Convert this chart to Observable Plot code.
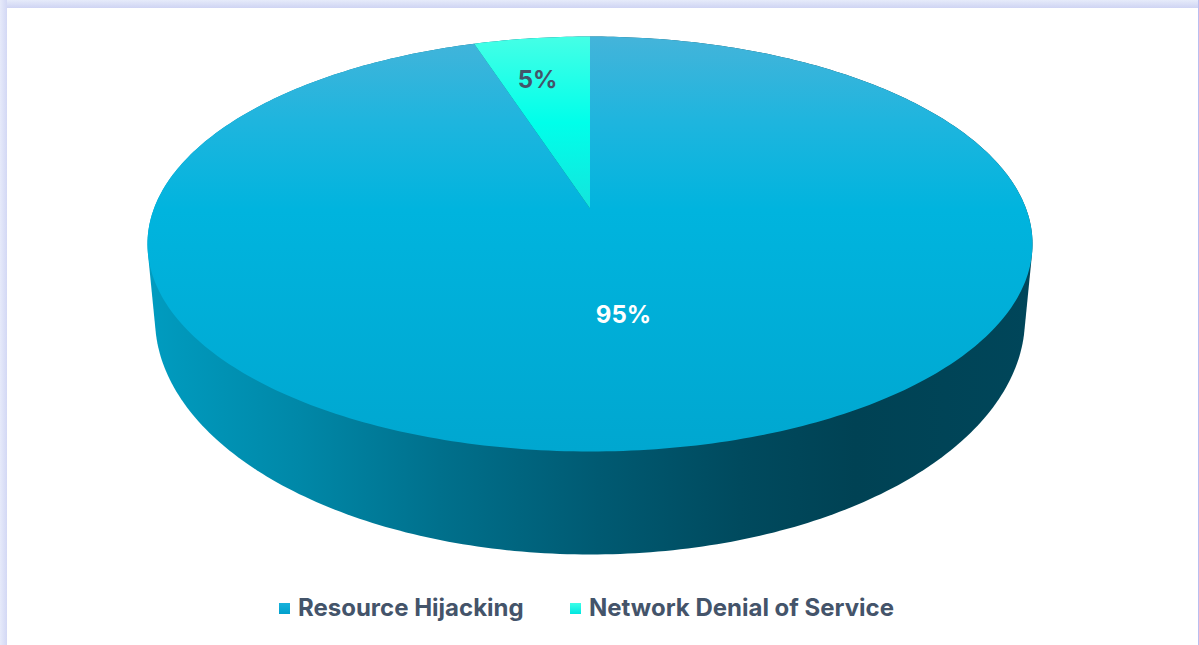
<!DOCTYPE html>
<html><head><meta charset="utf-8">
<script src="https://cdn.jsdelivr.net/npm/d3@7"></script>
<script src="https://cdn.jsdelivr.net/npm/@observablehq/plot@0.6"></script>
<style>
html,body{margin:0;padding:0;width:1199px;height:645px;overflow:hidden;background:#fff;font-family:Inter,sans-serif}
#frame{position:absolute;left:0;top:0;width:1199px;height:8px;background:linear-gradient(#e6ebfa,#cfd4f3)}
#frameL{position:absolute;left:0;top:0;width:7px;height:645px;background:linear-gradient(90deg,#e6eafa,#d3d8f5)}
#frameR{position:absolute;right:0;top:0;width:1px;height:645px;background:#b9bdf0}
#chart{position:absolute;left:0;top:0}
#legend{position:absolute;left:0;top:590px;width:1199px;height:36px;color:#44546a;font:650 24px Inter,sans-serif}
#legend span{position:absolute;top:3px;white-space:nowrap}
#legend i{position:absolute;top:13px;width:11px;height:11px}
</style></head><body>
<div id="frame"></div><div id="frameL"></div><div id="frameR"></div>
<div id="chart"></div>
<div id="legend"></div>
<script>
const categories = ["Resource Hijacking", "Network Denial of Service"];
const shares = [95, 5];
const labels = ["95%", "5%"];
const labelColors = ["#ffffff", "#44546a"];

// perspective disc: unit circle -> page coords
const cx = 589.5, apexY = 208, a = 436, k = 0.171, B = -165.84;
const rim = (t) => { // t = clockwise turn from 12 o'clock, radians
  const u = Math.sin(t), v = Math.cos(t), w = 1 + k * v;
  return [cx + a * u / w, (apexY + B * v) / w];
};
const ang = (p) => p * 2 * Math.PI / 100;
const total = d3.sum(shares);
function arcPts(from, to) {
  const n = Math.max(8, Math.round((to - from) * 4));
  const out = [];
  for (let i = 0; i <= n; i++) out.push(rim(ang(from + (to - from) * i / n)));
  return out;
}
// slices run clockwise from 12 o'clock
const big = [[cx, apexY], ...arcPts(0, shares[0] * 100 / total), [cx, apexY]];
const small = [[cx, apexY], ...arcPts(shares[0] * 100 / total, 100), [cx, apexY]];
const disc = arcPts(0, 100);
const floorRim = d3.range(0, 361, 1).map(d => [cx + 435 * Math.sin(d * Math.PI / 180), 318 - 236 * Math.cos(d * Math.PI / 180)]);
const side = d3.polygonHull([...disc, ...floorRim]);
side.push(side[0]);

const defs = () => {
  const g = d3.create("svg:defs");
  const grad = (id, x2, y2, stops) => {
    const l = g.append("linearGradient").attr("id", id).attr("x1", 0).attr("y1", 0).attr("x2", x2).attr("y2", y2);
    stops.forEach(([o, c]) => l.append("stop").attr("offset", o).attr("stop-color", c));
  };
  grad("gradSide", 1, 0, [[0, "#009cc0"], [0.17, "#0088a8"], [0.33, "#00708c"], [0.51, "#005a72"], [0.67, "#004a5e"], [0.8, "#004254"], [1, "#00465a"]]);
  grad("gradTop", 0, 1, [[0, "#44b4da"], [0.2, "#1fb5de"], [0.42, "#00b4de"], [1, "#00a7d0"]]);
  grad("gradSmall", 0, 1, [[0, "#45ffe6"], [0.5, "#00ffea"], [1, "#14e4dc"]]);
  return g.node();
};

const chart = Plot.plot({
  width: 1199, height: 590, margin: 0,
  x: {domain: [0, 1199], range: [0, 1199], axis: null},
  y: {domain: [0, 590], range: [0, 590], axis: null},
  style: {background: "transparent"},
  marks: [
    defs,
    Plot.line(side, {x: "0", y: "1", fill: "url(#gradSide)", stroke: "none"}),
    Plot.line(big, {x: "0", y: "1", fill: "url(#gradTop)", stroke: "none"}),
    Plot.line(small, {x: "0", y: "1", fill: "url(#gradSmall)", stroke: "none"}),
    Plot.text([0, 1], {
      x: [623, 537], y: [315, 80],
      text: i => labels[i], fill: i => labelColors[i],
      fontSize: 24, fontWeight: 650, fontFamily: "Inter, sans-serif"
    })
  ]
});
document.getElementById("chart").append(chart);

const legend = document.getElementById("legend");
const lx = [[279, 298, "linear-gradient(#18b2dc,#00a0cc)"], [570, 589, "linear-gradient(#3dffe8,#00e6e0)"]];
categories.forEach((c, i) => {
  const sq = document.createElement("i");
  sq.style.left = lx[i][0] + "px"; sq.style.background = lx[i][2];
  const sp = document.createElement("span");
  sp.style.left = lx[i][1] + "px"; sp.textContent = c;
  legend.append(sq, sp);
});
</script>
</body></html>
